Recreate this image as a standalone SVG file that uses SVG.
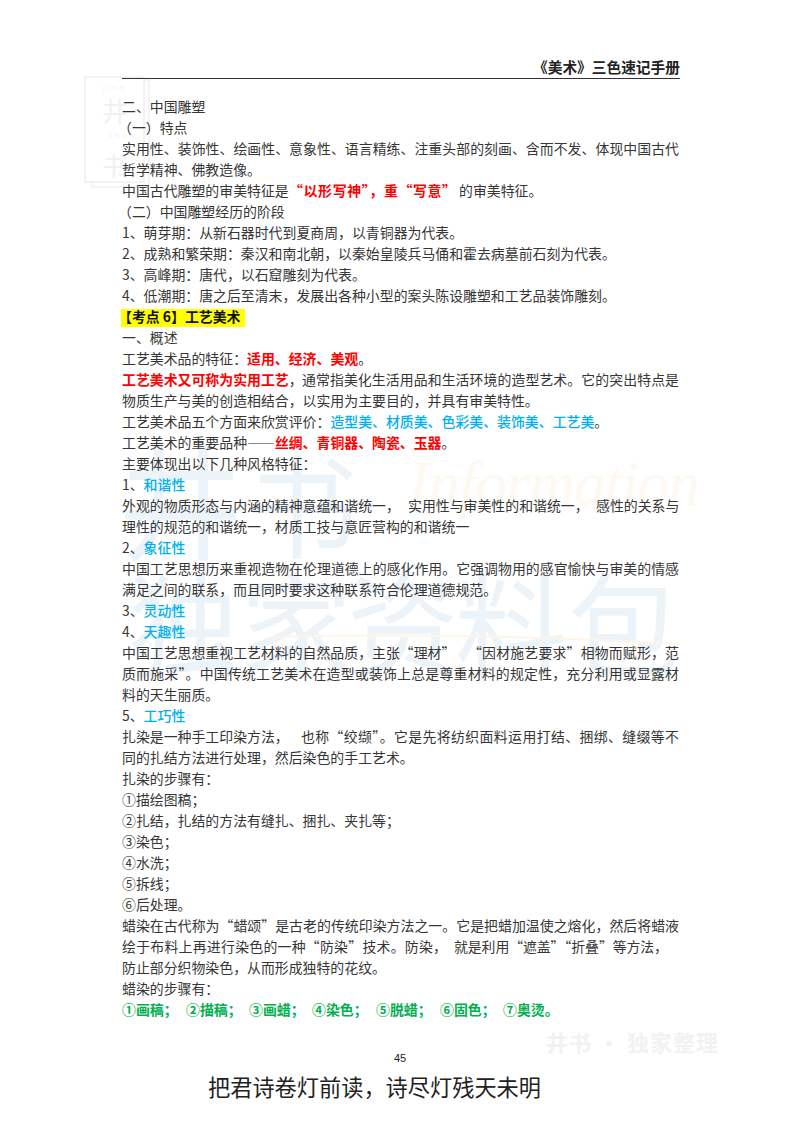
<svg xmlns="http://www.w3.org/2000/svg" width="800" height="1132" viewBox="0 0 800 1132" lang="zh-CN">
<style>
text{font-family:"Noto Sans CJK SC","Liberation Serif",sans-serif;white-space:pre}
.t{font-size:13.9px;fill:#363636;font-weight:400}
.r{fill:#ff0000;font-weight:700}
.b{fill:#00b0f0;font-weight:500}
.g{fill:#00b050;font-weight:700}
.k{font-weight:700;fill:#111}
.wm{fill:#ecf3f9;font-size:112px;font-weight:400}
.st{fill:#f1f1f1;font-size:26px;font-weight:400}
.st2{fill:#f3f3f3;font-size:8px;letter-spacing:3px;font-family:"Liberation Sans",sans-serif}
</style>
<rect width="800" height="1132" fill="#fff"/>
<g id="watermark">
<rect x="85" y="77" width="59" height="105" fill="none" stroke="#efefef" stroke-width="1.5"/>
<path d="M92 182V187H149V80H144" fill="none" stroke="#f1f1f1" stroke-width="1.5"/>
<text class="st2" x="103" y="90">jing</text>
<text class="st" x="102" y="121">井</text>
<text class="st2" x="108" y="138">shu</text>
<text class="st" x="102" y="176">书</text>
<text class="wm" x="118" y="550" style="font-size:125px">井</text>
<text class="wm" x="246" y="550">书</text>
<text class="wm" x="128" y="668">独</text>
<text class="wm" x="240" y="668">家</text>
<text class="wm" x="347" y="668">资</text>
<text class="wm" x="455" y="668">料</text>
<text class="wm" x="568" y="668">包</text>
<text x="408" y="505" font-size="64" font-style="italic" textLength="292" style="font-family:'Liberation Serif',serif;fill:#fef9f0">Information</text>
<path d="M270 637Q470 632 680 644" fill="none" stroke="#fef5e8" stroke-width="2"/>
<text x="546" y="1051" font-size="22" font-weight="700" textLength="172" fill="#f2f2f2">井书 · 独家整理</text>
</g>
<g id="header">
<text x="533" y="73" font-size="14.7" font-weight="700" fill="#222">《美术》三色速记手册</text>
<line x1="122" y1="78.5" x2="680" y2="78.5" stroke="#333" stroke-width="1"/>
</g>
<g id="body">
<rect x="121" y="309" width="124" height="18" fill="#ffff00"/>
<text class="t" x="122" y="112">二、中国雕塑</text>
<text class="t" x="118" y="133">（一）特点</text>
<text class="t" x="122" y="154" textLength="557">实用性、装饰性、绘画性、意象性、语言精练、注重头部的刻画、含而不发、体现中国古代</text>
<text class="t" x="122" y="175">哲学精神、佛教造像。</text>
<text class="t" x="122" y="196">中国古代雕塑的审美特征是</text>
<text class="t r" x="289" y="196" textLength="167">“以形写神”，重“写意”</text>
<text class="t" x="459" y="196">的审美特征。</text>
<text class="t" x="118" y="217">（二）中国雕塑经历的阶段</text>
<text class="t" x="122" y="238">1、萌芽期：从新石器时代到夏商周，以青铜器为代表。</text>
<text class="t" x="122" y="259">2、成熟和繁荣期：秦汉和南北朝，以秦始皇陵兵马俑和霍去病墓前石刻为代表。</text>
<text class="t" x="122" y="280">3、高峰期：唐代，以石窟雕刻为代表。</text>
<text class="t" x="122" y="301">4、低潮期：唐之后至清末，发展出各种小型的案头陈设雕塑和工艺品装饰雕刻。</text>
<text class="t k" x="118" y="322">【考点 6】工艺美术</text>
<text class="t" x="122" y="343">一、概述</text>
<text class="t" x="122" y="364">工艺美术品的特征：<tspan class="r">适用、经济、美观</tspan>。</text>
<text class="t" x="122" y="385"><tspan class="r">工艺美术又可称为实用工艺</tspan>，</text>
<text class="t" x="302" y="385" textLength="377">通常指美化生活用品和生活环境的造型艺术。它的突出特点是</text>
<text class="t" x="122" y="406">物质生产与美的创造相结合，以实用为主要目的，并具有审美特性。</text>
<text class="t" x="122" y="427">工艺美术品五个方面来欣赏评价：<tspan class="b">造型美、材质美、色彩美、装饰美、工艺美</tspan>。</text>
<text class="t" x="122" y="448">工艺美术的重要品种——<tspan class="r">丝绸、青铜器、陶瓷、玉器</tspan>。</text>
<text class="t" x="122" y="469">主要体现出以下几种风格特征：</text>
<text class="t" x="122" y="490">1、<tspan class="b">和谐性</tspan></text>
<text class="t" x="122" y="511">外观的物质形态与内涵的精神意蕴和谐统一，</text>
<text class="t" x="408" y="511">实用性与审美性的和谐统一，</text>
<text class="t" x="596" y="511">感性的关系与</text>
<text class="t" x="122" y="532">理性的规范的和谐统一，材质工技与意匠营构的和谐统一</text>
<text class="t" x="122" y="553">2、<tspan class="b">象征性</tspan></text>
<text class="t" x="122" y="574" textLength="557">中国工艺思想历来重视造物在伦理道德上的感化作用。它强调物用的感官愉快与审美的情感</text>
<text class="t" x="122" y="595">满足之间的联系，而且同时要求这种联系符合伦理道德规范。</text>
<text class="t" x="122" y="616">3、<tspan class="b">灵动性</tspan></text>
<text class="t" x="122" y="637">4、<tspan class="b">天趣性</tspan></text>
<text class="t" x="122" y="658">中国工艺思想重视工艺材料的自然品质，主张“理材”</text>
<text class="t" x="468" y="658" textLength="211">“因材施艺要求”相物而赋形，范</text>
<text class="t" x="122" y="679" textLength="557">质而施采”。中国传统工艺美术在造型或装饰上总是尊重材料的规定性，充分利用或显露材</text>
<text class="t" x="122" y="700">料的天生丽质。</text>
<text class="t" x="122" y="721">5、<tspan class="b">工巧性</tspan></text>
<text class="t" x="122" y="742">扎染是一种手工印染方法，</text>
<text class="t" x="301" y="742" textLength="378">也称“绞缬”。它是先将纺织面料运用打结、捆绑、缝缀等不</text>
<text class="t" x="122" y="763">同的扎结方法进行处理，然后染色的手工艺术。</text>
<text class="t" x="122" y="784">扎染的步骤有：</text>
<text class="t" x="122" y="805">①描绘图稿；</text>
<text class="t" x="122" y="826">②扎结，扎结的方法有缝扎、捆扎、夹扎等；</text>
<text class="t" x="122" y="847">③染色；</text>
<text class="t" x="122" y="868">④水洗；</text>
<text class="t" x="122" y="889">⑤拆线；</text>
<text class="t" x="122" y="910">⑥后处理。</text>
<text class="t" x="122" y="931" textLength="557">蜡染在古代称为“蜡颂”是古老的传统印染方法之一。它是把蜡加温使之熔化，然后将蜡液</text>
<text class="t" x="122" y="952" textLength="325">绘于布料上再进行染色的一种“防染”技术。防染，</text>
<text class="t" x="454" y="952" textLength="214">就是利用“遮盖”“折叠”等方法，</text>
<text class="t" x="122" y="973">防止部分织物染色，从而形成独特的花纹。</text>
<text class="t" x="122" y="994">蜡染的步骤有：</text>
<text class="t g" x="122" y="1015">①画稿；<tspan x="186">②描稿；</tspan><tspan x="249">③画蜡；</tspan><tspan x="312">④染色；</tspan><tspan x="376">⑤脱蜡；</tspan><tspan x="440">⑥固色；</tspan><tspan x="503">⑦奥烫。</tspan></text>
</g>
<g id="footer">
<text x="400" y="1062" font-size="11" text-anchor="middle" fill="#222" style="font-family:'Liberation Sans',sans-serif">45</text>
<text x="208" y="1096" font-size="22.2" fill="#222" textLength="333">把君诗卷灯前读，诗尽灯残天未明</text>
</g>
</svg>
